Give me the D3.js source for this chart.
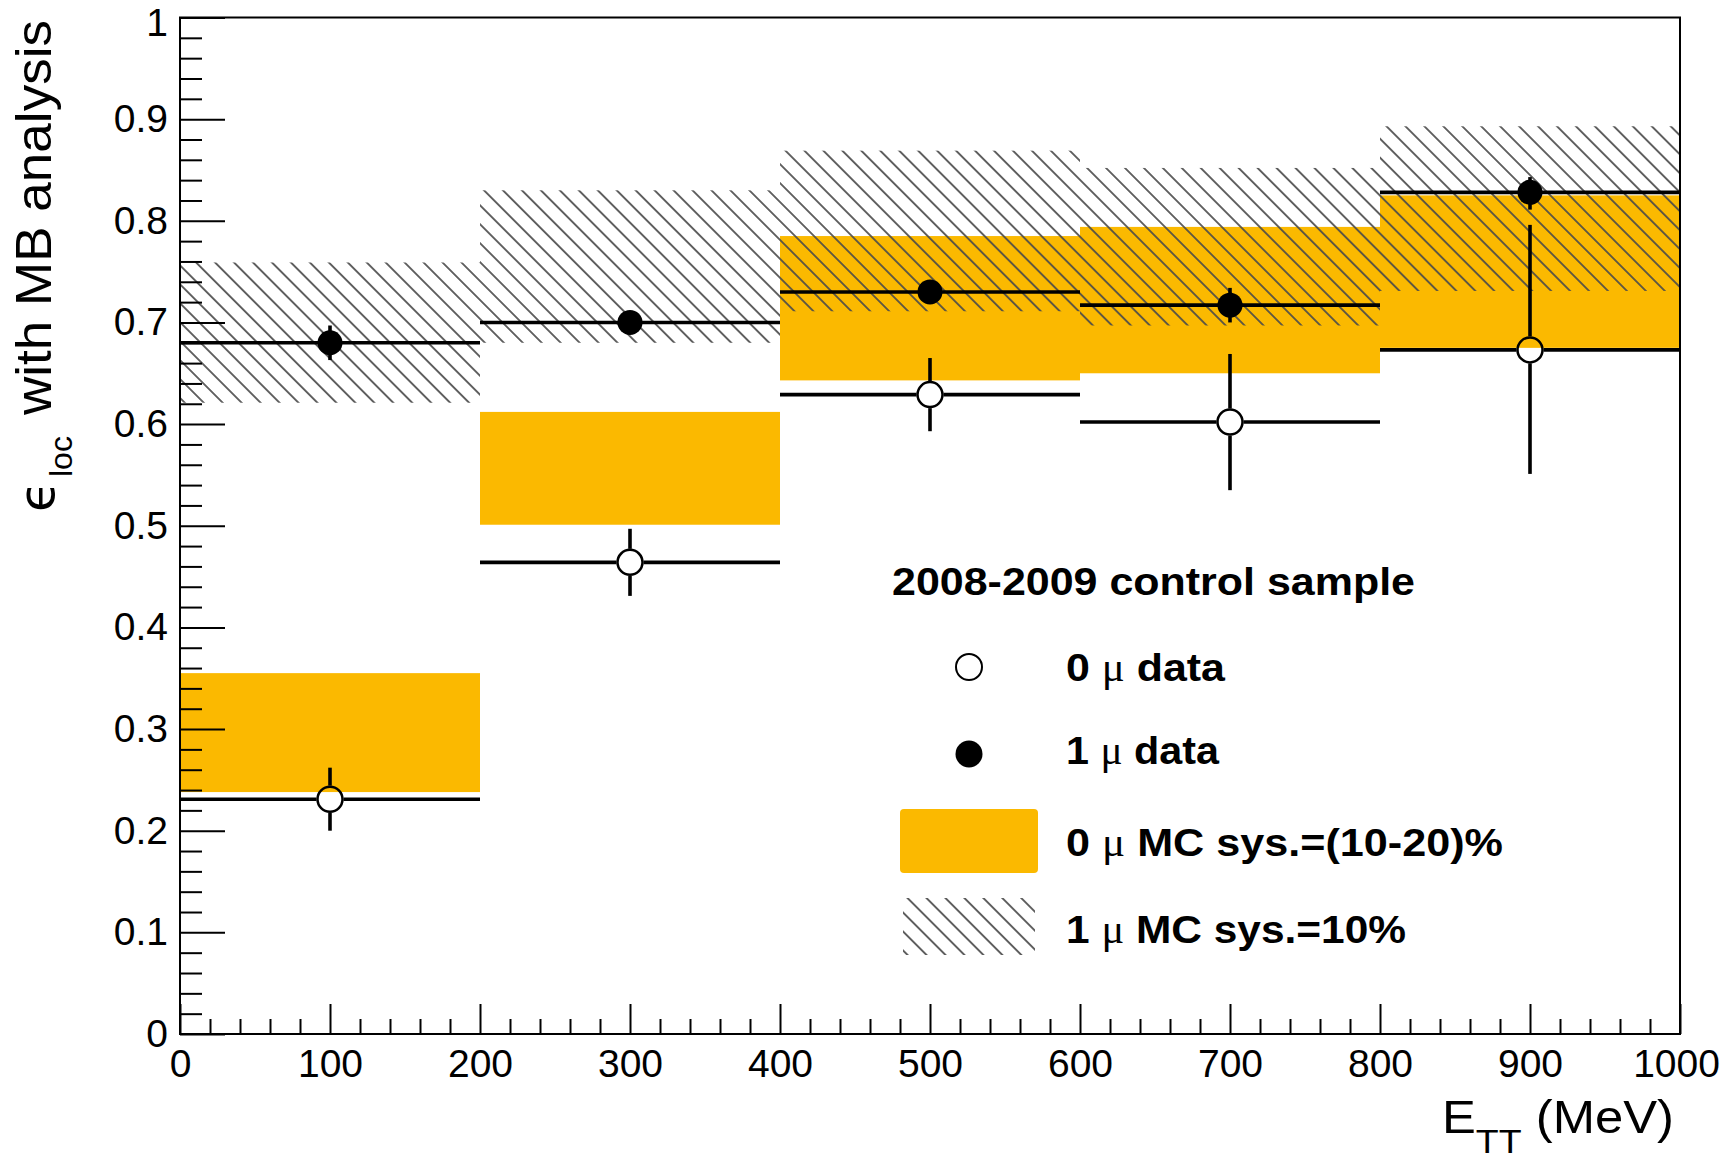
<!DOCTYPE html>
<html>
<head>
<meta charset="utf-8">
<script src="https://cdn.jsdelivr.net/npm/d3@7"></script>
<style>
  html, body { margin: 0; padding: 0; background: #fff; }
  svg { display: block; font-family: "Liberation Sans", Arial, Helvetica, sans-serif; }
</style>
</head>
<body>
<div id="chart"></div>
<script>
// ---- data ----
const binEdges   = [0, 200, 400, 600, 800, 1000];
const binCenters = [100, 300, 500, 700, 900];

// 0 mu data (open circles)
const zeroMu   = [0.231, 0.464, 0.629, 0.602, 0.673];
const zeroMuLo = [0.200, 0.431, 0.593, 0.535, 0.551];
const zeroMuHi = [0.262, 0.497, 0.665, 0.669, 0.796];

// 1 mu data (filled circles)
const oneMu   = [0.680, 0.700, 0.730, 0.717, 0.828];
const oneMuLo = [0.663, 0.690, 0.720, 0.700, 0.811];
const oneMuHi = [0.697, 0.710, 0.740, 0.734, 0.843];

// 0 mu MC band (orange), 1 mu MC band (hatched)
const mc0Lo = [0.238, 0.501, 0.643, 0.650, 0.675];
const mc0Hi = [0.355, 0.612, 0.785, 0.794, 0.825];
const mc1Lo = [0.621, 0.680, 0.711, 0.697, 0.731];
const mc1Hi = [0.759, 0.830, 0.869, 0.852, 0.893];

const xTicks = [0, 100, 200, 300, 400, 500, 600, 700, 800, 900, 1000];
const yTicks = [0, 0.1, 0.2, 0.3, 0.4, 0.5, 0.6, 0.7, 0.8, 0.9, 1];

const legendTitle  = '2008-2009 control sample';
const legendLabels = ['0 μ data', '1 μ data', '0 μ MC sys.=(10-20)%', '1 μ MC sys.=10%'];

// ---- layout ----
const W = 1722, H = 1159;
const ORANGE = '#fbb900';
const FONT = '"Liberation Sans", Arial, Helvetica, sans-serif';

const svg = d3.select('#chart').append('svg').attr('width', W).attr('height', H);

const x = d3.scaleLinear().domain([0, 1000]).range([180, 1680]);
const y = d3.scaleLinear().domain([0, 1]).range([1034, 17.5]);

const bins = binCenters.map((c, i) => ({
  x0: binEdges[i], x1: binEdges[i + 1], c,
  z: zeroMu[i], zLo: zeroMuLo[i], zHi: zeroMuHi[i],
  o: oneMu[i], oLo: oneMuLo[i], oHi: oneMuHi[i],
  m0Lo: mc0Lo[i], m0Hi: mc0Hi[i], m1Lo: mc1Lo[i], m1Hi: mc1Hi[i]
}));

// hatch pattern "\\\\"
const defs = svg.append('defs');
defs.append('pattern')
  .attr('id', 'hatch')
  .attr('patternUnits', 'userSpaceOnUse')
  .attr('width', 13.4).attr('height', 13.4)
  .attr('patternTransform', 'rotate(-45)')
  .append('line')
  .attr('x1', 6.7).attr('y1', 0).attr('x2', 6.7).attr('y2', 13.4)
  .attr('stroke', '#4a4a4a').attr('stroke-width', 1.7);

// orange band
svg.append('g').selectAll('rect')
  .data(bins).join('rect')
  .attr('x', d => x(d.x0)).attr('width', d => x(d.x1) - x(d.x0))
  .attr('y', d => y(d.m0Hi)).attr('height', d => y(d.m0Lo) - y(d.m0Hi))
  .attr('fill', ORANGE);

// hatched band
svg.append('g').selectAll('rect')
  .data(bins).join('rect')
  .attr('x', d => x(d.x0)).attr('width', d => x(d.x1) - x(d.x0))
  .attr('y', d => y(d.m1Hi)).attr('height', d => y(d.m1Lo) - y(d.m1Hi))
  .attr('fill', 'url(#hatch)');

// ---- axes (ROOT style: ticks inside, left and bottom only) ----
function styleAxis(g) {
  g.select('.domain').remove();
  g.selectAll('line').attr('stroke', '#000').attr('stroke-width', 2);
  g.attr('font-family', FONT).attr('font-size', 39);
  g.selectAll('text').attr('fill', '#000');
}

const yMinor = d3.range(0, 1.0001, 0.02).filter(v => Math.abs(v * 10 - Math.round(v * 10)) > 1e-6);
const xMinor = d3.range(0, 1000.1, 20).filter(v => v % 100 !== 0);

svg.append('g').attr('transform', `translate(${x(0)},0)`)
  .call(d3.axisLeft(y).tickValues(yMinor).tickSize(-22).tickFormat(''))
  .call(styleAxis);
svg.append('g').attr('transform', `translate(${x(0)},0)`)
  .call(d3.axisLeft(y).tickValues(yTicks).tickSize(-45).tickPadding(12).tickFormat(d => String(d)))
  .call(styleAxis)
  .call(g => g.selectAll('text').filter(d => d === 1).attr('dy', '0.45em'));

svg.append('g').attr('transform', `translate(0,${y(0)})`)
  .call(d3.axisBottom(x).tickValues(xMinor).tickSize(-15).tickFormat(''))
  .call(styleAxis);
svg.append('g').attr('transform', `translate(0,${y(0)})`)
  .call(d3.axisBottom(x).tickValues(xTicks).tickSize(-30).tickFormat(d => String(d)))
  .call(styleAxis)
  .call(g => g.selectAll('text').attr('y', 43).attr('dy', null))
  .call(g => g.selectAll('text').filter(d => d === 1000).attr('dx', -4));

// ---- data points ----
const R = 12.5;
const LW = 3.6;

// 1 mu: error bars + filled markers
const g1 = svg.append('g');
g1.selectAll('line.h').data(bins).join('line')
  .attr('x1', d => x(d.x0)).attr('x2', d => x(d.x1))
  .attr('y1', d => y(d.o)).attr('y2', d => y(d.o))
  .attr('stroke', '#000').attr('stroke-width', LW);
g1.selectAll('line.v').data(bins).join('line')
  .attr('x1', d => x(d.c)).attr('x2', d => x(d.c))
  .attr('y1', d => y(d.oHi)).attr('y2', d => y(d.oLo))
  .attr('stroke', '#000').attr('stroke-width', LW);
g1.selectAll('circle').data(bins).join('circle')
  .attr('cx', d => x(d.c)).attr('cy', d => y(d.o)).attr('r', R)
  .attr('fill', '#000');

// 0 mu: error bars stop at the hollow marker
const g0 = svg.append('g');
const seg = [];
bins.forEach(d => {
  const cx = x(d.c), cy = y(d.z), r = R + 1;
  seg.push([x(d.x0), cy, cx - r, cy]);
  seg.push([cx + r, cy, x(d.x1), cy]);
  seg.push([cx, y(d.zHi), cx, cy - r]);
  seg.push([cx, cy + r, cx, y(d.zLo)]);
});
g0.selectAll('line').data(seg).join('line')
  .attr('x1', s => s[0]).attr('y1', s => s[1]).attr('x2', s => s[2]).attr('y2', s => s[3])
  .attr('stroke', '#000').attr('stroke-width', LW);
g0.selectAll('circle').data(bins).join('circle')
  .attr('cx', d => x(d.c)).attr('cy', d => y(d.z)).attr('r', R)
  .attr('fill', 'none').attr('stroke', '#000').attr('stroke-width', 2.5);

// frame
svg.append('rect')
  .attr('x', x(0)).attr('y', y(1))
  .attr('width', x(1000) - x(0)).attr('height', y(0) - y(1))
  .attr('fill', 'none').attr('stroke', '#000').attr('stroke-width', 2);

// ---- axis titles ----
const xt = svg.append('text')
  .attr('x', 1674).attr('y', 1133)
  .attr('text-anchor', 'end')
  .attr('font-size', 46)
  .attr('textLength', 232).attr('lengthAdjust', 'spacingAndGlyphs');
xt.append('tspan').text('E');
xt.append('tspan').attr('font-size', 34).attr('dy', 20).text('TT');
xt.append('tspan').attr('dy', -20).text(' (MeV)');

const yt = svg.append('g').attr('transform', 'rotate(-90)');
yt.append('text')
  .attr('x', -20).attr('y', 51)
  .attr('text-anchor', 'end')
  .attr('font-size', 50)
  .attr('textLength', 395).attr('lengthAdjust', 'spacingAndGlyphs')
  .text('with MB analysis');
yt.append('text')
  .attr('x', -477).attr('y', 72)
  .attr('font-size', 32)
  .text('loc');
yt.append('text')
  .attr('x', -512).attr('y', 54)
  .attr('font-size', 50)
  .attr('font-family', '"DejaVu Sans", sans-serif')
  .text('ϵ');

// ---- legend ----
const leg = svg.append('g').attr('font-weight', 'bold').attr('font-size', 39);

leg.append('text').attr('x', 892).attr('y', 595)
  .attr('textLength', 523).attr('lengthAdjust', 'spacingAndGlyphs')
  .text(legendTitle);

const legRows = [
  { label: legendLabels[0], base: 681, len: 159 },
  { label: legendLabels[1], base: 764, len: 153 },
  { label: legendLabels[2], base: 856, len: 437 },
  { label: legendLabels[3], base: 943, len: 340 }
];
legRows.forEach(r => {
  const t = leg.append('text').attr('x', 1066).attr('y', r.base)
    .attr('textLength', r.len).attr('lengthAdjust', 'spacingAndGlyphs');
  const parts = r.label.split('μ');
  t.append('tspan').text(parts[0]);
  t.append('tspan').attr('font-weight', 'normal')
    .attr('font-family', '"Liberation Serif", "DejaVu Serif", serif').text('μ');
  t.append('tspan').text(parts[1]);
});

leg.append('circle').attr('cx', 969).attr('cy', 667).attr('r', 13)
  .attr('fill', 'none').attr('stroke', '#000').attr('stroke-width', 2);
leg.append('circle').attr('cx', 969).attr('cy', 754).attr('r', 13.5)
  .attr('fill', '#000');
leg.append('rect').attr('x', 900).attr('y', 809).attr('width', 138).attr('height', 64)
  .attr('rx', 4).attr('fill', ORANGE);
leg.append('rect').attr('x', 903).attr('y', 898).attr('width', 132).attr('height', 57)
  .attr('fill', 'url(#hatch)');
</script>
</body>
</html>
